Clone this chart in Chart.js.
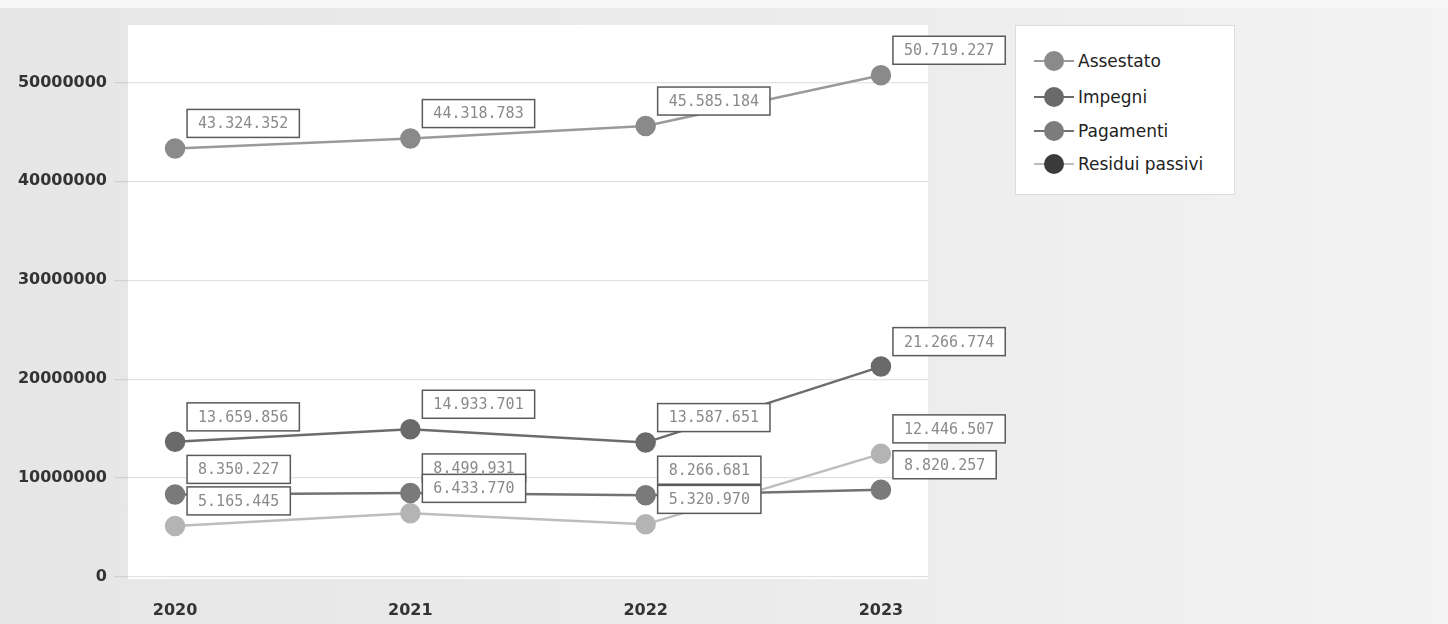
<!DOCTYPE html>
<html>
<head>
<meta charset="utf-8">
<script src="https://cdn.jsdelivr.net/npm/chart.js@4.4.1/dist/chart.umd.min.js"></script>
<style>
  html, body { margin: 0; padding: 0; }
  body { width: 1448px; height: 624px; overflow: hidden; background: linear-gradient(90deg, #e6e6e6 0%, #ececec 60%, #f3f3f3 100%); position: relative; }
  #topband { position: absolute; left: 0; top: 0; width: 1448px; height: 8px; background: #f6f6f6; }
  #wrap { position: absolute; left: 0; top: 0; width: 1448px; height: 624px; }
  #legend { position: absolute; left: 1015px; top: 25px; width: 220px; height: 170px; background: #fff; border: 1px solid #dcdcdc; box-sizing: border-box; font-family: "DejaVu Sans", sans-serif; font-size: 17px; color: #222; }
  .item { position: absolute; left: 0; height: 20px; display: flex; align-items: center; }
  .mark { position: relative; width: 40px; height: 20px; margin-left: 18px; }
  .mark .ln { position: absolute; left: 0; right: 0; top: 9px; height: 2px; }
  .mark .dot { position: absolute; left: 10px; top: 0; width: 20px; height: 20px; border-radius: 50%; }
</style>
</head>
<body>
<div id="topband"></div>
<div id="wrap"><canvas id="chart" width="1448" height="624"></canvas></div>
<div id="legend"></div>
<script>
const years = [2020, 2021, 2022, 2023];
const seriesNames = ['Assestato', 'Impegni', 'Pagamenti', 'Residui passivi'];
const assestato = [43324352, 44318783, 45585184, 50719227];
const impegni = [13659856, 14933701, 13587651, 21266774];
const pagamenti = [8350227, 8499931, 8266681, 8820257];
const residuiPassivi = [5165445, 6433770, 5320970, 12446507];
const yTicks = [0, 10000000, 20000000, 30000000, 40000000, 50000000];

const lineColors = ['#9a9a9a', '#6c6c6c', '#727272', '#bdbdbd'];
const pointColors = ['#8a8a8a', '#6a6a6a', '#7a7a7a', '#b4b4b4'];
const legendDots = ['#8a8a8a', '#6a6a6a', '#7c7c7c', '#3a3a3a'];

function fmt(n) {
    return String(n).replace(/\B(?=(\d{3})+(?!\d))/g, '.');
}

const values = [assestato, impegni, pagamenti, residuiPassivi];

const datasets = seriesNames.map((name, i) => ({
    label: name,
    data: years.map((y, j) => ({ x: y, y: values[i][j] })),
    borderColor: lineColors[i],
    backgroundColor: pointColors[i],
    pointBackgroundColor: pointColors[i],
    pointBorderColor: pointColors[i],
    borderWidth: 2.5,
    pointRadius: 9,
    pointHoverRadius: 9,
    tension: 0
}));

const plotBackground = {
    id: 'plotBackground',
    beforeDraw(chart) {
        const { ctx, chartArea } = chart;
        ctx.save();
        ctx.fillStyle = '#ffffff';
        ctx.fillRect(chartArea.left, chartArea.top, chartArea.right - chartArea.left, chartArea.bottom - chartArea.top + 2);
        ctx.restore();
    }
};

// boxed value labels above-right of each point
const valueBoxes = {
    id: 'valueBoxes',
    afterDatasetsDraw(chart) {
        const ctx = chart.ctx;
        ctx.save();
        ctx.font = '15px "DejaVu Sans Mono", monospace';
        ctx.textBaseline = 'middle';
        chart.data.datasets.forEach((ds, i) => {
            chart.getDatasetMeta(i).data.forEach((pt, j) => {
                const text = fmt(values[i][j]);
                const w = ctx.measureText(text).width + 22;
                const h = 28;
                const x = pt.x + 12;
                const y = pt.y - 11 - h;
                ctx.fillStyle = '#ffffff';
                ctx.fillRect(x, y, w, h);
                ctx.strokeStyle = '#5a5a5a';
                ctx.lineWidth = 1.5;
                ctx.strokeRect(x, y, w, h);
                ctx.fillStyle = '#8a8a8a';
                ctx.fillText(text, x + 11, y + h / 2 + 1);
            });
        });
        ctx.restore();
    }
};

new Chart(document.getElementById('chart'), {
    type: 'line',
    data: { datasets },
    options: {
        responsive: false,
        animation: false,
        events: [],
        layout: { padding: { top: 25, right: 520, left: 0, bottom: 0 } },
        plugins: {
            legend: { display: false },
            tooltip: { enabled: false }
        },
        scales: {
            x: {
                type: 'linear',
                min: 2019.8,
                max: 2023.2,
                afterBuildTicks: s => { s.ticks = years.map(v => ({ value: v })); },
                afterFit: s => { s.height = 47; },
                grid: { display: false },
                border: { display: false },
                ticks: {
                    color: '#333',
                    font: { family: 'DejaVu Sans', size: 16, weight: 'bold' },
                    padding: 16,
                    callback: v => String(v)
                }
            },
            y: {
                min: 0,
                max: 55800000,
                afterBuildTicks: s => { s.ticks = yTicks.map(v => ({ value: v })); },
                afterFit: s => { s.width = 128; },
                grid: { color: '#e2e2e2', lineWidth: 1.2, tickLength: 14, tickColor: '#d0d0d0' },
                border: { display: false },
                ticks: {
                    color: '#333',
                    font: { family: 'DejaVu Sans', size: 16, weight: 'bold' },
                    padding: 7,
                    callback: v => String(v)
                }
            }
        }
    },
    plugins: [plotBackground, valueBoxes]
});

const legend = document.getElementById('legend');
const legendTops = [25, 61, 95, 128];
seriesNames.forEach((name, i) => {
    const item = document.createElement('div');
    item.className = 'item';
    item.style.top = legendTops[i] + 'px';
    item.innerHTML = `<div class="mark"><div class="ln" style="background:${lineColors[i]}"></div><div class="dot" style="background:${legendDots[i]}"></div></div><span style="margin-left:4px">${name}</span>`;
    legend.appendChild(item);
});
</script>
</body>
</html>
